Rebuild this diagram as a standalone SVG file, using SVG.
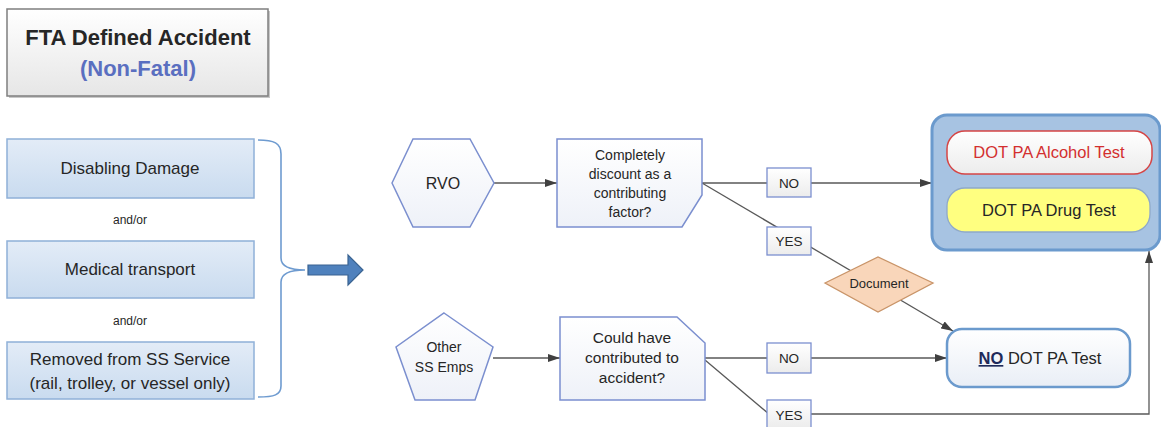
<svg xmlns="http://www.w3.org/2000/svg" width="1161" height="427" viewBox="0 0 1161 427">
<style>
text{font-family:"Liberation Sans",Arial,sans-serif;text-anchor:middle;fill:#262626}
.lbl{fill:url(#gLbl);stroke:#7b8fcf;stroke-width:1.3}
.flow{fill:url(#gNode);stroke:#7b8fcf;stroke-width:1.5}
.conn{fill:none;stroke:#595959;stroke-width:1.3}
.btxt{font-size:17px}
.ftxt{font-size:14px}
.ltxt{font-size:13.5px}
</style>
<defs>
<linearGradient id="gTitle" x1="0" y1="0" x2="0" y2="1"><stop offset="0" stop-color="#ffffff"/><stop offset="1" stop-color="#e6e6e6"/></linearGradient>
<linearGradient id="gCond" x1="0" y1="0" x2="0" y2="1"><stop offset="0" stop-color="#e3ecf7"/><stop offset="1" stop-color="#c9dbef"/></linearGradient>
<linearGradient id="gNode" x1="0" y1="0" x2="0" y2="1"><stop offset="0" stop-color="#ffffff"/><stop offset="1" stop-color="#eef1f8"/></linearGradient>
<linearGradient id="gLbl" x1="0" y1="0" x2="0" y2="1"><stop offset="0" stop-color="#ffffff"/><stop offset="1" stop-color="#ececec"/></linearGradient>
<linearGradient id="gAlc" x1="0" y1="0" x2="0" y2="1"><stop offset="0" stop-color="#ffffff"/><stop offset="1" stop-color="#ececec"/></linearGradient>
<linearGradient id="gNoTest" x1="0" y1="0" x2="0" y2="1"><stop offset="0" stop-color="#ffffff"/><stop offset="1" stop-color="#e9eef6"/></linearGradient>
<marker id="arr" markerWidth="12" markerHeight="8" refX="12" refY="4" orient="auto" markerUnits="userSpaceOnUse"><path d="M0,0 L12,4 L0,8 Z" fill="#404040"/></marker>
</defs>

<g id="title">
<rect x="9" y="11" width="261" height="87" fill="#c8c8c8"/>
<rect x="7" y="9" width="261" height="87" fill="url(#gTitle)" stroke="#7f7f7f" stroke-width="1.5"/>
<text x="138" y="45" font-size="22" font-weight="bold" fill="#1a1a1a">FTA Defined Accident</text>
<text x="138" y="76" font-size="22" font-weight="bold" style="fill:#5a6fc0">(Non-Fatal)</text>
</g>

<g id="disabling">
<rect x="7" y="139" width="247" height="59" fill="url(#gCond)" stroke="#8fb0d8" stroke-width="1.5"/>
<text class="btxt" x="130" y="174">Disabling Damage</text>
</g>
<text x="130" y="224" font-size="12">and/or</text>
<g id="medical">
<rect x="7" y="241" width="247" height="57" fill="url(#gCond)" stroke="#8fb0d8" stroke-width="1.5"/>
<text class="btxt" x="130" y="275">Medical transport</text>
</g>
<text x="130" y="325" font-size="12">and/or</text>
<g id="removed">
<rect x="7" y="342" width="247" height="57" fill="url(#gCond)" stroke="#8fb0d8" stroke-width="1.5"/>
<text class="btxt" x="130" y="365">Removed from SS Service</text>
<text class="btxt" x="130" y="389">(rail, trolley, or vessel only)</text>
</g>

<g id="brace">
<path d="M258,140 C274,140 281,143 281,154 L281,258 C281,266 290,270 305,270 C290,270 281,274 281,282 L281,386 C281,395 274,397 258,397" fill="none" stroke="#6e9bd0" stroke-width="1.6"/>
</g>
<g id="bigArrow">
<polygon points="308,265 348,265 348,255 363,270 348,285 348,275 308,275" fill="#4f81bd" stroke="#3a6391" stroke-width="1.2"/>
</g>

<g id="connectors">
<line class="conn" x1="494" y1="183" x2="557" y2="183" marker-end="url(#arr)"/>
<line class="conn" x1="702" y1="183" x2="932" y2="183" marker-end="url(#arr)"/>
<line class="conn" x1="702" y1="183" x2="953" y2="331" marker-end="url(#arr)"/>
<line class="conn" x1="493" y1="358" x2="560" y2="358" marker-end="url(#arr)"/>
<line class="conn" x1="705" y1="358" x2="947" y2="358" marker-end="url(#arr)"/>
<polyline class="conn" points="705,360 769,414 1149,414 1149,251" marker-end="url(#arr)"/>
</g>

<g id="rvo">
<polygon class="flow" points="392,183 413,139 470,139 494,183 470,227 413,227"/>
<text x="443" y="189" font-size="16">RVO</text>
</g>

<g id="q1">
<polygon class="flow" points="557,139 702,139 702,195 682,227 557,227"/>
<text class="ftxt" x="630" y="160">Completely</text>
<text class="ftxt" x="630" y="179">discount as a</text>
<text class="ftxt" x="630" y="198">contributing</text>
<text class="ftxt" x="630" y="217">factor?</text>
</g>

<g id="other">
<polygon class="flow" points="444,313 493,347 475,400 415,400 396,347"/>
<text x="444" y="352" font-size="14">Other</text>
<text x="444" y="372" font-size="14">SS Emps</text>
</g>

<g id="q2">
<polygon class="flow" points="560,317 677,317 705,343 705,400 560,400"/>
<text x="632" y="343" font-size="15.5">Could have</text>
<text x="632" y="363" font-size="15.5">contributed to</text>
<text x="632" y="383" font-size="15.5">accident?</text>
</g>

<g id="no1">
<rect class="lbl" x="767" y="168" width="44" height="29"/>
<text class="ltxt" x="789" y="188">NO</text>
</g>
<g id="yes1">
<rect class="lbl" x="767" y="227" width="44" height="28"/>
<text class="ltxt" x="789" y="246">YES</text>
</g>
<g id="no2">
<rect class="lbl" x="767" y="343" width="44" height="30"/>
<text class="ltxt" x="789" y="363">NO</text>
</g>
<g id="yes2">
<rect class="lbl" x="767" y="400" width="44" height="28"/>
<text class="ltxt" x="789" y="420">YES</text>
</g>

<g id="document">
<polygon points="825,283 878,257 933,283 878,312" fill="#f9d6ba" stroke="#c99468" stroke-width="1.3"/>
<text x="879" y="288" font-size="13">Document</text>
</g>

<g id="tests">
<rect x="932" y="115" width="228" height="135" rx="15" fill="#a7c3e2" stroke="#6b9acd" stroke-width="3"/>
<g id="alcohol">
<rect x="947" y="131" width="205" height="43" rx="18" fill="url(#gAlc)" stroke="#d64545" stroke-width="1.5"/>
<text x="1049" y="158" font-size="16.5" style="fill:#d32f2f">DOT PA Alcohol Test</text>
</g>
<g id="drug">
<rect x="947" y="188" width="203" height="44" rx="18" fill="#ffff80" stroke="#8fa9c9" stroke-width="1.3"/>
<text x="1049" y="216" font-size="16.5">DOT PA Drug Test</text>
</g>
</g>

<g id="noTest">
<rect x="947" y="329" width="183" height="58" rx="15" fill="url(#gNoTest)" stroke="#6b9acd" stroke-width="2.5"/>
<text x="1040" y="364" font-size="16.5"><tspan font-weight="bold" text-decoration="underline" style="fill:#1f2a5a">NO</tspan> DOT PA Test</text>
</g>
</svg>
